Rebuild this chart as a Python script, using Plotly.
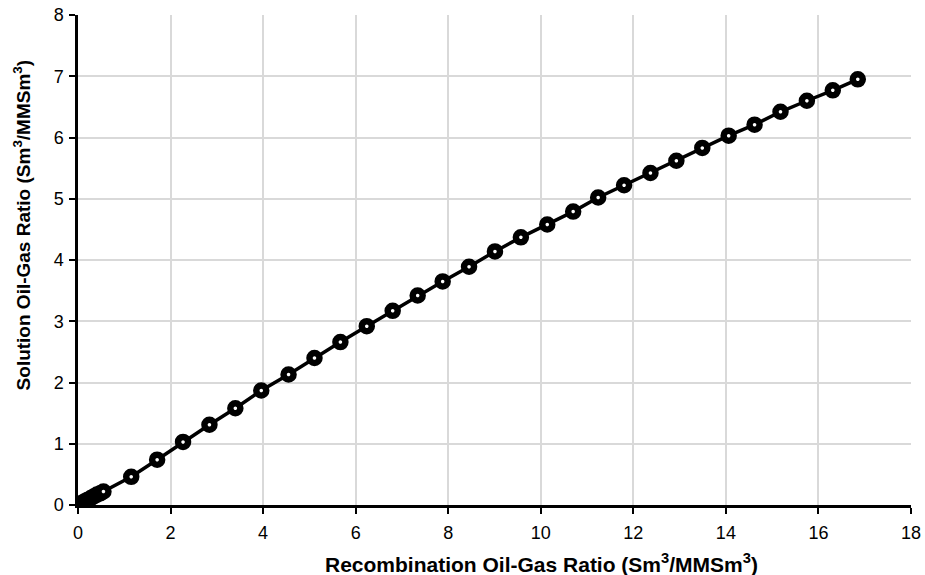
import plotly.graph_objects as go

recomb_ogr = [0.0, 0.05, 0.10, 0.15, 0.20, 0.27, 0.34, 0.41, 0.48, 0.55,
              1.15, 1.71, 2.27, 2.84, 3.40, 3.96, 4.55, 5.11, 5.67, 6.24,
              6.80, 7.34, 7.88, 8.45, 9.01, 9.57, 10.14, 10.70, 11.24, 11.80,
              12.37, 12.93, 13.49, 14.06, 14.62, 15.18, 15.75, 16.31, 16.85]
solution_ogr = [0.0, 0.02, 0.04, 0.06, 0.08, 0.11, 0.14, 0.17, 0.19, 0.22,
                0.46, 0.74, 1.03, 1.31, 1.58, 1.87, 2.13, 2.40, 2.66, 2.92,
                3.17, 3.42, 3.65, 3.89, 4.14, 4.37, 4.58, 4.79, 5.02, 5.22,
                5.42, 5.62, 5.83, 6.03, 6.21, 6.42, 6.60, 6.77, 6.95]

x_ticks = [0, 2, 4, 6, 8, 10, 12, 14, 16, 18]
y_ticks = [0, 1, 2, 3, 4, 5, 6, 7, 8]
x_title = "<b>Recombination Oil-Gas Ratio (Sm<sup>3</sup>/MMSm<sup>3</sup>)</b>"
y_title = "<b>Solution Oil-Gas Ratio (Sm<sup>3</sup>/MMSm<sup>3</sup>)</b>"

fig = go.Figure()
fig.add_trace(go.Scatter(
    x=recomb_ogr, y=solution_ogr, mode="lines+markers",
    line=dict(color="black", width=3.5),
    marker=dict(symbol="circle", size=10, color="white",
                line=dict(color="black", width=6.5)),
    showlegend=False,
))

font_family = "Liberation Sans, Arial, sans-serif"
axis_common = dict(
    showgrid=True, gridcolor="#d9d9d9", gridwidth=1.5, zeroline=False,
    showline=True, linecolor="black", linewidth=2.5, ticks="outside",
    ticklen=6, tickwidth=1.5, tickcolor="black",
    tickfont=dict(size=18, family=font_family, color="black"),
    automargin=False,
)
fig.update_layout(
    width=925, height=575,
    margin=dict(l=78, r=14, t=15, b=70),
    paper_bgcolor="white", plot_bgcolor="white",
    font=dict(family=font_family, color="black", size=18),
    xaxis=dict(range=[0, 18], tickvals=x_ticks, ticklabelstandoff=4, **axis_common),
    yaxis=dict(range=[0, 8], tickvals=y_ticks, ticklabelstandoff=2, **axis_common),
    annotations=[
        dict(text=x_title, xref="paper", yref="paper", x=0.557, y=-0.118,
             xanchor="center", yanchor="middle", showarrow=False,
             font=dict(size=21, family=font_family)),
        dict(text=y_title, xref="paper", yref="paper", x=-0.067, y=0.571,
             xanchor="center", yanchor="middle", showarrow=False, textangle=-90,
             font=dict(size=19, family=font_family)),
    ],
)
fig.write_html("out.html")
